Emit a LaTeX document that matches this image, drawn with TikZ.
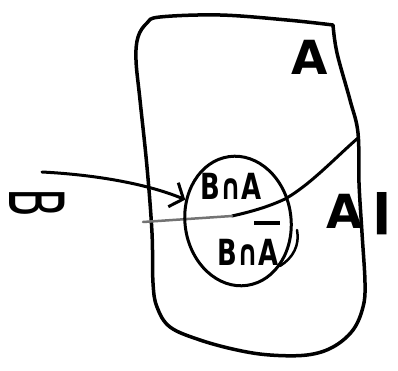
\documentclass[tikz,border=0pt]{standalone}
\usepackage{fontspec}
\setmainfont{DejaVu Sans}
\usetikzlibrary{shapes.geometric,arrows.meta}
\begin{document}
\begin{tikzpicture}[x=1pt,y=-1pt, line cap=round, line join=round,
  ink/.style={line width=3.5pt, black},
  lbl/.style={inner sep=0pt, font=\fontsize{36}{36}\selectfont\bfseries},
  biglbl/.style={inner sep=0pt, font=\fontsize{47}{47}\selectfont\bfseries}]
\useasboundingbox (0,0) rectangle (398,371);
\fill[white] (0,0) rectangle (398,371);
% sample space
\draw[ink] plot[smooth,tension=0.6] coordinates {(333,25) (337,53) (350,100) (358,133) (359,183) (362,233) (365,283) (363,307) (353,330) (333,347) (307,355) (270,355) (237,350) (200,340) (170,327) (157,307) (153,283) (152,233) (147,167) (140,100) (136,60) (138,37) (147,23) (160,17) (220,15) (287,20) (333,25)};
% divider between A and A'
\draw[ink, line width=3pt] (358,138) .. controls (335,158) and (310,185) .. (285,199) .. controls (268,207) and (250,212) .. (232,216);
\draw[line width=2.5pt, black!55] (232,216) -- (143,222);
% event B
\node[draw, ink, line width=3pt, ellipse, minimum width=106pt, minimum height=130pt, inner sep=0pt, rotate=8] (circB) at (238,221) {};
\draw[ink, line width=2.5pt] (297,230) .. controls (300,245) and (293,258) .. (280,266);
% labels
\node[biglbl] (Atop) at (310,57) {A};
\node[biglbl] (Acomp) at (345,211) {A};
\node[inner sep=0pt, font=\fontsize{46}{46}\selectfont\bfseries] (Aprime) at (382,249) {\scalebox{1.8}[3.4]{\textquotesingle}};
\node[lbl] (BcapA) at (231,186) {\scalebox{0.72}[1]{B∩A}};
\node[lbl] (BcapAc) at (248,243) {\scalebox{0.72}[1]{B∩\makebox[0pt][l]{\kern-6pt\raisebox{40pt}{\rule{36pt}{4pt}}}A}};
\node[rotate=-90, inner sep=0pt, font=\fontsize{40}{40}\selectfont] (Blbl) at (37,203) {\scalebox{1.05}[1.9]{B}};
\coordinate (as) at (42,172);
\draw[ink, line width=3pt, -{Straight Barb[length=11pt,width=26pt]}] (as) .. controls (100,175) and (150,185) .. (circB.150);
\end{tikzpicture}
\end{document}
